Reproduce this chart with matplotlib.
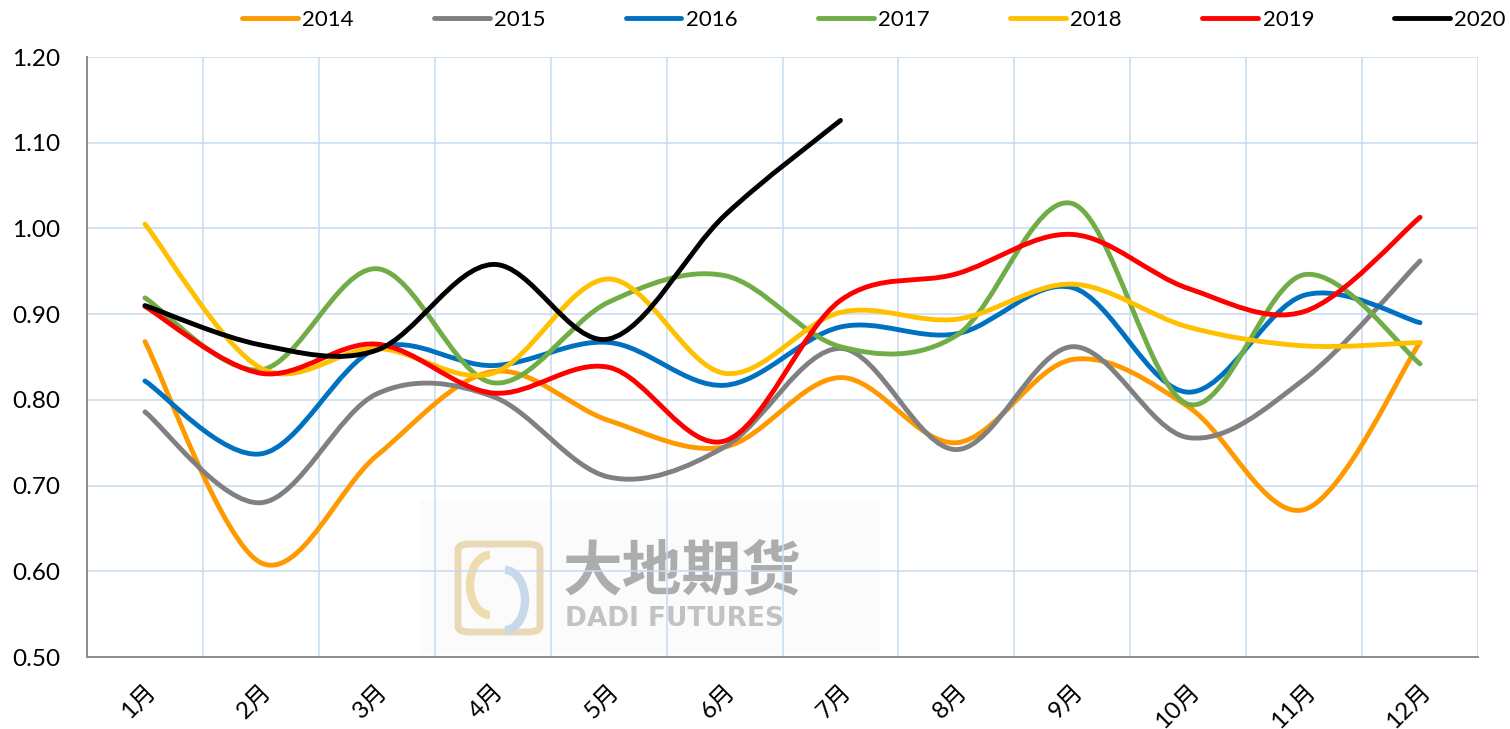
#!/usr/bin/env python3
"""Monthly ratio by year, 2014-2020 (smoothed lines, Excel style)."""

import numpy as np
import matplotlib
matplotlib.use("Agg")
import matplotlib.pyplot as plt
from matplotlib.path import Path
from matplotlib.patches import PathPatch, FancyBboxPatch, Rectangle, Arc
from matplotlib.lines import Line2D

plt.rcParams["font.family"] = ["Lato", "Noto Sans CJK SC", "DejaVu Sans"]

MONTHS = ["1月", "2月", "3月", "4月", "5月", "6月", "7月", "8月", "9月",
          "10月", "11月", "12月"]

Y2014 = [0.868, 0.610, 0.735, 0.833, 0.776, 0.745, 0.826, 0.750, 0.847, 0.792, 0.672, 0.867]
Y2015 = [0.786, 0.680, 0.807, 0.804, 0.710, 0.745, 0.860, 0.742, 0.862, 0.756, 0.824, 0.962]
Y2016 = [0.822, 0.737, 0.860, 0.840, 0.867, 0.817, 0.885, 0.877, 0.931, 0.809, 0.922, 0.890]
Y2017 = [0.919, 0.835, 0.953, 0.820, 0.914, 0.945, 0.862, 0.875, 1.029, 0.795, 0.946, 0.842]
Y2018 = [1.005, 0.837, 0.860, 0.831, 0.941, 0.831, 0.902, 0.894, 0.935, 0.885, 0.863, 0.867]
Y2019 = [0.909, 0.831, 0.865, 0.808, 0.838, 0.752, 0.916, 0.947, 0.993, 0.930, 0.903, 1.013]
Y2020 = [0.910, 0.864, 0.858, 0.958, 0.871, 1.015, 1.126]

SERIES = [
    ("2014", Y2014, "#FF9900"),
    ("2015", Y2015, "#808080"),
    ("2016", Y2016, "#0070C0"),
    ("2017", Y2017, "#70AD47"),
    ("2018", Y2018, "#FFC000"),
    ("2019", Y2019, "#FF0000"),
    ("2020", Y2020, "#000000"),
]

LW = 3.5
FS_LEG = 16
FS_TICK = 17.5


def smooth_path(xs, ys):
    """Catmull-Rom style bezier through the points (like Excel smoothing)."""
    pts = np.column_stack([xs, ys]).astype(float)
    n = len(pts)
    verts = [pts[0]]
    codes = [Path.MOVETO]
    for i in range(n - 1):
        p0 = pts[i - 1] if i > 0 else pts[i]
        p1 = pts[i]
        p2 = pts[i + 1]
        p3 = pts[i + 2] if i + 2 < n else pts[i + 1]
        c1 = p1 + (p2 - p0) / 6.0
        c2 = p2 - (p3 - p1) / 6.0
        verts += [c1, c2, p2]
        codes += [Path.CURVE4] * 3
    return Path(verts, codes)


fig = plt.figure(figsize=(15.1, 7.29), dpi=100)
ax = fig.add_axes([87 / 1510, 1 - 657 / 729, (1478 - 87) / 1510, 600 / 729])

# watermark (logo + company name), kept behind the axes
W, H = 1510, 729
fig.patches.append(Rectangle((420 / W, 1 - 655 / H), 460 / W, 155 / H,
                             transform=fig.transFigure, facecolor="#fbfbfb",
                             edgecolor="none", zorder=-2))
fig.patches.append(FancyBboxPatch((458 / W, 1 - 632 / H), 82 / W, 88 / H,
                                  boxstyle="round,pad=0,rounding_size=0.008",
                                  transform=fig.transFigure, fill=False,
                                  edgecolor="#ead9b6", linewidth=5, zorder=-1))
fig.patches.append(Arc((490 / W, 1 - 585 / H), 40 / W, 60 / H, theta1=90,
                       theta2=270, transform=fig.transFigure,
                       edgecolor="#efdcae", linewidth=6, zorder=-1))
fig.patches.append(Arc((505 / W, 1 - 600 / H), 40 / W, 60 / H, theta1=-90,
                       theta2=90, transform=fig.transFigure,
                       edgecolor="#c6d8ea", linewidth=6, zorder=-1))
fig.text(563 / W, 1 - 572 / H, "大地期货", fontsize=43, color="#adadad",
         fontweight="bold", ha="left", va="center", zorder=-1,
         family=["Noto Sans CJK SC"])
fig.text(565 / W, 1 - 619 / H, "DADI FUTURES", fontsize=19, color="#c2c2c2",
         fontweight="bold", ha="left", va="center", zorder=-1,
         family=["DejaVu Sans"])

ax.patch.set_alpha(0)
for label, ys, color in SERIES:
    xs = np.arange(len(ys))
    patch = PathPatch(smooth_path(xs, ys), fill=False, edgecolor=color,
                      linewidth=LW, capstyle="round", joinstyle="round",
                      zorder=3)
    ax.add_patch(patch)

ax.set_xlim(-0.5, len(MONTHS) - 0.5)
ax.set_ylim(0.5, 1.2)
yt = np.arange(0.5, 1.201, 0.1)
ax.set_yticks(yt)
ax.set_yticklabels([f"{v:.2f}" for v in yt])
ax.set_xticks(np.arange(len(MONTHS)))
ax.set_xticklabels(MONTHS, rotation=45, ha="right", rotation_mode="anchor")
ax.set_xticks(np.arange(-0.5, len(MONTHS)), minor=True)
ax.tick_params(axis="both", which="both", length=0, labelsize=FS_TICK)
ax.tick_params(axis="x", pad=17)
ax.tick_params(axis="y", pad=19)

ax.grid(True, which="minor", axis="x", color="#c6dbf0", linewidth=1.1)
ax.grid(True, which="major", axis="y", color="#c6dbf0", linewidth=1.1)
ax.set_axisbelow(True)
for side in ["top", "right"]:
    ax.spines[side].set_visible(False)
for side in ["left", "bottom"]:
    ax.spines[side].set_color("#8c8c8c")
    ax.spines[side].set_linewidth(1.4)

handles = [Line2D([], [], color=c, linewidth=LW, solid_capstyle="round")
           for _, _, c in SERIES]
fig.legend(handles, [s[0] for s in SERIES], loc="center",
           bbox_to_anchor=(874 / W, 1 - 20 / H), ncol=7, frameon=False,
           handlelength=2.5, handletextpad=0.22, columnspacing=3.6,
           prop={"size": FS_LEG})

fig.savefig("out.png", dpi=100)
